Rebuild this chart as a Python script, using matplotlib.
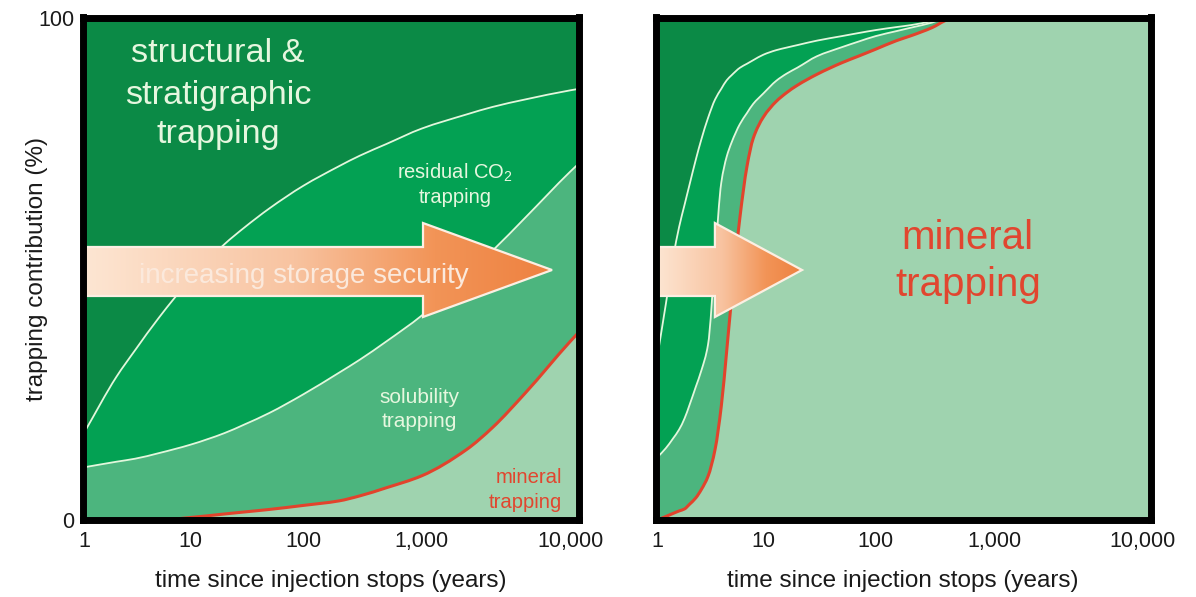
import numpy as np
import matplotlib
matplotlib.use('Agg')
import matplotlib.pyplot as plt
from matplotlib.colors import LinearSegmentedColormap
from matplotlib.patches import Polygon, PathPatch
from matplotlib.path import Path

plt.rcParams['font.family'] = ['Liberation Sans', 'DejaVu Sans']
plt.rcParams['mathtext.fontset'] = 'custom'
plt.rcParams['mathtext.rm'] = 'Liberation Sans'
plt.rcParams['mathtext.it'] = 'Liberation Sans:italic'

# ---------------- data ----------------
x_tick_values = [1, 10, 100, 1000, 10000]
x_tick_labels = ['1', '10', '100', '1,000', '10,000']
y_tick_values = [0, 100]
y_tick_labels = ['0', '100']
x_label = 'time since injection stops (years)'
y_label = 'trapping contribution (%)'

# left panel: shares (%) of each trapping mechanism
left_years = [1, 2, 3, 5, 10, 20, 30, 50, 100, 200, 300, 500, 1000, 2000, 3000, 5000, 10000, 12000]
left_mineral = [0, 0, 0, 0, 0.5, 1.2, 1.6, 2.1, 2.9, 3.8, 4.8, 6.4, 8.8, 14.0, 18.4, 25.3, 35.5, 38.0]
left_solubility = [10.5, 11.6, 12.2, 13.3, 14.5, 16.1, 17.4, 19.2, 22.1, 25.5, 27.1, 29.1, 31.9, 34.8, 35.2, 34.9, 33.8, 33.5]
left_residual = [7.0, 16.9, 21.6, 26.9, 33.0, 37.6, 39.2, 40.7, 41.5, 41.1, 40.6, 39.3, 37.2, 31.9, 28.6, 23.5, 16.2, 14.4]
left_structural = [82.5, 71.5, 66.2, 59.8, 52.0, 45.1, 41.8, 38.0, 33.5, 29.6, 27.5, 25.2, 22.1, 19.3, 17.8, 16.3, 14.5, 14.1]

# right panel: shares (%) of each trapping mechanism
right_years = [1, 1.2, 1.4, 1.6, 1.8, 2, 2.3, 2.6, 3, 3.5, 4, 4.5, 5, 6, 7, 8, 10, 13, 16, 20,
               30, 50, 70, 100, 150, 200, 300, 400, 500, 12000]
right_mineral = [0, 0.7, 1.3, 1.8, 2.2, 3.1, 4.4, 6.1, 8.7, 14.1, 22.6, 33.6, 44.0, 60.2, 70.4, 75.9, 80.2, 83.3, 85.0, 86.5,
                 88.7, 91.0, 92.3, 93.7, 95.4, 96.4, 98.0, 99.5, 100, 100]
right_solubility = [12.5, 13.6, 14.9, 16.2, 18.0, 19.7, 22.1, 23.7, 26.2, 38.3, 44.5, 38.7, 31.1, 18.6, 10.6, 6.9, 4.7, 4.1, 3.8, 3.5,
                    3.6, 3.1, 2.9, 2.6, 1.9, 1.6, 1.0, 0.5, 0, 0]
right_residual = [20.2, 28.7, 35.8, 40.3, 42.5, 43.8, 45.2, 46.0, 45.1, 31.3, 18.7, 15.2, 13.4, 11.2, 9.8, 8.7, 7.7, 6.1, 5.2, 4.5,
                  3.1, 2.2, 1.7, 1.2, 0.8, 0.5, 0.3, 0, 0, 0]
right_structural = [67.3, 57.0, 48.0, 41.7, 37.3, 33.4, 28.3, 24.2, 20.0, 16.3, 14.2, 12.5, 11.5, 10.0, 9.2, 8.5, 7.4, 6.5, 6.0, 5.5,
                    4.6, 3.7, 3.1, 2.5, 1.9, 1.5, 0.7, 0, 0, 0]

# ---------------- styles ----------------
C_STRUCT = '#0b8a46'
C_RESID = '#03a153'
C_SOLUB = '#4cb57e'
C_MINER = '#9fd3af'
C_WHITE_LINE = '#e2f7dc'
C_RED = '#e2432c'
C_TEXT_W = '#e6f7df'
C_TEXT_R = '#e1462f'

# schematic time axis: decade positions as drawn in the original figure
DEC_LOG = np.array([-3.0, 0, 1, 2, 3, 4, 8])
DEC_POS = np.array([0.004 - 3 * 0.214, 0.004, 0.218, 0.445, 0.684, 0.983, 0.983 + 4 * 0.299])


def fwd(t):
    t = np.asarray(t, dtype=float)
    return np.interp(np.log10(np.clip(t, 1e-3, 1e8)), DEC_LOG, DEC_POS)


def inv(u):
    u = np.asarray(u, dtype=float)
    return 10 ** np.interp(u, DEC_POS, DEC_LOG)


arrow_cmap = LinearSegmentedColormap.from_list(
    'arr', [(0.0, '#fde6d3'), (0.45, '#f8c3a0'), (0.75, '#f29457'), (1.0, '#ee8140')])

fig = plt.figure(figsize=(11.96, 5.97), dpi=100)
ax1 = fig.add_axes([82.5 / 1196, 77 / 597, 496 / 1196, 502.5 / 597])
ax2 = fig.add_axes([655.5 / 1196, 77 / 597, 495 / 1196, 502.5 / 597])


def setup(ax, show_y):
    ax.set_xscale('function', functions=(fwd, inv))
    ax.set_xlim(float(inv(0.0)), float(inv(1.0)))
    ax.set_ylim(0, 100)
    ax.set_xticks(x_tick_values)
    ax.set_xticklabels(x_tick_labels)
    ax.xaxis.set_minor_locator(matplotlib.ticker.NullLocator())
    ax.tick_params(axis='x', length=0, pad=8, labelsize=15.5, colors='#1a1a1a')
    if show_y:
        ax.set_yticks(y_tick_values)
        ax.set_yticklabels(y_tick_labels)
        ax.tick_params(axis='y', length=0, pad=6, labelsize=15.5, colors='#1a1a1a')
        ax.set_ylabel(y_label, fontsize=17.5, color='#1a1a1a')
        ax.yaxis.set_label_coords(-0.07, 0.5)
    else:
        ax.set_yticks([])
    ax.set_xlabel(x_label, fontsize=17.5, color='#1a1a1a')
    ax.xaxis.set_label_coords(0.5, -0.10)
    for s in ax.spines.values():
        s.set_linewidth(5.0)
        s.set_color('black')
        s.set_zorder(10)


def smooth_curve(years, values):
    """Monotone cubic (Bezier) path through the read points, in data coords."""
    u = fwd(years)
    y = np.asarray(values, dtype=float)
    n = len(u)
    h = np.diff(u)
    d = np.diff(y) / h
    m = np.zeros(n)
    m[0], m[-1] = d[0], d[-1]
    for k in range(1, n - 1):
        if d[k - 1] * d[k] <= 0:
            m[k] = 0.0
        else:
            w1 = 2 * h[k] + h[k - 1]
            w2 = h[k] + 2 * h[k - 1]
            m[k] = (w1 + w2) / (w1 / d[k - 1] + w2 / d[k])
    vu, vy, codes = [u[0]], [y[0]], [Path.MOVETO]
    for k in range(n - 1):
        vu += [u[k] + h[k] / 3, u[k + 1] - h[k] / 3, u[k + 1]]
        vy += [y[k] + m[k] * h[k] / 3, y[k + 1] - m[k + 1] * h[k] / 3, y[k + 1]]
        codes += [Path.CURVE4] * 3
    verts = np.column_stack([inv(np.array(vu)), np.array(vy)])
    return verts, codes


def draw_stack(ax, years, mineral, solub, resid, struct):
    t = np.array(years, float)
    m = np.array(mineral, float)
    cs = m + np.array(solub, float)
    cr = cs + np.array(resid, float)
    tot = cr + np.array(struct, float)
    ax.fill_between(t, 0, tot, color=C_STRUCT, lw=0, zorder=1)
    for k, (cum, col) in enumerate([(cr, C_RESID), (cs, C_SOLUB), (m, C_MINER)]):
        verts, codes = smooth_curve(t, cum)
        fverts = np.vstack([verts, [[t[-1], 0], [t[0], 0], [t[0], 0]]])
        fcodes = codes + [Path.LINETO, Path.LINETO, Path.CLOSEPOLY]
        ax.add_patch(PathPatch(Path(fverts, fcodes), facecolor=col, lw=0,
                               transform=ax.transData, zorder=1.1 + 0.1 * k))
    for cum, col, lw, z in [(cr, C_WHITE_LINE, 1.3, 2), (cs, C_WHITE_LINE, 1.3, 2), (m, C_RED, 2.2, 2.1)]:
        verts, codes = smooth_curve(t, cum)
        ax.add_patch(PathPatch(Path(verts, codes), facecolor='none', edgecolor=col, lw=lw,
                               transform=ax.transData, zorder=z, capstyle='round'))


def draw_arrow(ax, x_head, x_tip):
    body_top, body_bot = 0.5433, 0.4458
    head_top, head_bot = 0.591, 0.404
    mid = 0.4975
    verts = [(0, body_bot), (x_head, body_bot), (x_head, head_bot), (x_tip, mid),
             (x_head, head_top), (x_head, body_top), (0, body_top)]
    poly = Polygon(verts, closed=True, transform=ax.transAxes, facecolor='none',
                   edgecolor='#fcefe3', lw=1.6, zorder=6, joinstyle='miter')
    ax.add_patch(poly)
    grad = np.linspace(0, 1, 256).reshape(1, -1)
    im = ax.imshow(grad, cmap=arrow_cmap, extent=[0, x_tip, head_bot, head_top],
                   transform=ax.transAxes, aspect='auto', zorder=5, interpolation='bilinear')
    im.set_clip_path(poly)


def lines(ax, items, x, ha, size, color):
    for txt, yb in items:
        ax.text(x, yb, txt, transform=ax.transAxes, ha=ha, va='baseline',
                fontsize=size, color=color, zorder=8)


setup(ax1, True)
setup(ax2, False)
draw_stack(ax1, left_years, left_mineral, left_solubility, left_residual, left_structural)
draw_stack(ax2, right_years, right_mineral, right_solubility, right_residual, right_structural)
draw_arrow(ax1, 0.6865, 0.9466)
draw_arrow(ax2, 0.120, 0.296)

lines(ax1, [('structural &', 0.912), ('stratigraphic', 0.827), ('trapping', 0.750)], 0.273, 'center', 24.7, C_TEXT_W)
lines(ax1, [('residual CO$_2$', 0.679), ('trapping', 0.630)], 0.751, 'center', 14.5, C_TEXT_W)
lines(ax1, [('solubility', 0.232), ('trapping', 0.186)], 0.680, 'center', 15, C_TEXT_W)
lines(ax1, [('mineral', 0.073), ('trapping', 0.023)], 0.967, 'right', 14.6, C_TEXT_R)
lines(ax1, [('increasing storage security', 0.471)], 0.447, 'center', 20, '#fbe9dc')
lines(ax2, [('mineral', 0.539), ('trapping', 0.445)], 0.631, 'center', 29, C_TEXT_R)

for ax in (ax1, ax2):
    ax.set_xlim(float(inv(0.0)), float(inv(1.0)))
    ax.set_ylim(0, 100)

fig.savefig('out.png', dpi=100)
